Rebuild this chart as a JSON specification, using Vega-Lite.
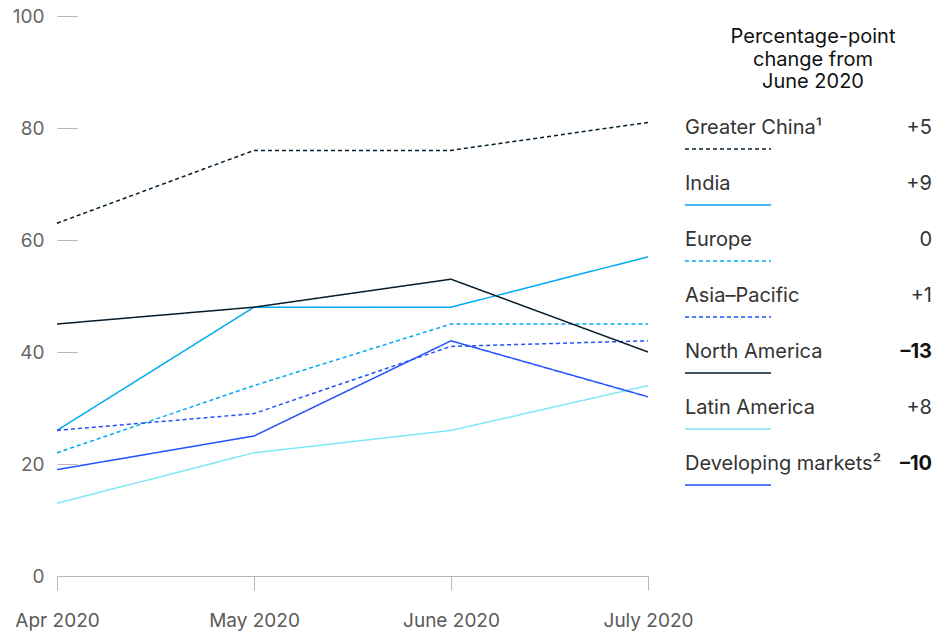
{
  "$schema": "https://vega.github.io/schema/vega-lite/v6.json",
  "background": "white",
  "padding": {"left": 12, "top": 7, "right": 5, "bottom": 5},
  "bounds": "flush",
  "spacing": 37,
  "config": {"view": {"stroke": null}, "font": "Inter"},
  "datasets": {
    "series": [
      {"region": "Greater China", "month": "Apr 2020", "value": 63},
      {"region": "Greater China", "month": "May 2020", "value": 76},
      {"region": "Greater China", "month": "June 2020", "value": 76},
      {"region": "Greater China", "month": "July 2020", "value": 81},
      {"region": "India", "month": "Apr 2020", "value": 26},
      {"region": "India", "month": "May 2020", "value": 48},
      {"region": "India", "month": "June 2020", "value": 48},
      {"region": "India", "month": "July 2020", "value": 57},
      {"region": "Europe", "month": "Apr 2020", "value": 22},
      {"region": "Europe", "month": "May 2020", "value": 34},
      {"region": "Europe", "month": "June 2020", "value": 45},
      {"region": "Europe", "month": "July 2020", "value": 45},
      {"region": "Asia–Pacific", "month": "Apr 2020", "value": 26},
      {"region": "Asia–Pacific", "month": "May 2020", "value": 29},
      {"region": "Asia–Pacific", "month": "June 2020", "value": 41},
      {"region": "Asia–Pacific", "month": "July 2020", "value": 42},
      {"region": "North America", "month": "Apr 2020", "value": 45},
      {"region": "North America", "month": "May 2020", "value": 48},
      {"region": "North America", "month": "June 2020", "value": 53},
      {"region": "North America", "month": "July 2020", "value": 40},
      {"region": "Latin America", "month": "Apr 2020", "value": 13},
      {"region": "Latin America", "month": "May 2020", "value": 22},
      {"region": "Latin America", "month": "June 2020", "value": 26},
      {"region": "Latin America", "month": "July 2020", "value": 34},
      {"region": "Developing markets", "month": "Apr 2020", "value": 19},
      {"region": "Developing markets", "month": "May 2020", "value": 25},
      {"region": "Developing markets", "month": "June 2020", "value": 42},
      {"region": "Developing markets", "month": "July 2020", "value": 32}
    ],
    "legend": [
      {"region": "Greater China", "name": "Greater China¹", "rank": 1, "change": 5, "label": "+5"},
      {"region": "India", "name": "India", "rank": 2, "change": 9, "label": "+9"},
      {"region": "Europe", "name": "Europe", "rank": 3, "change": 0, "label": "0"},
      {"region": "Asia–Pacific", "name": "Asia–Pacific", "rank": 4, "change": 1, "label": "+1"},
      {"region": "North America", "name": "North America", "rank": 5, "change": -13, "label": "–13"},
      {"region": "Latin America", "name": "Latin America", "rank": 6, "change": 8, "label": "+8"},
      {"region": "Developing markets", "name": "Developing markets²", "rank": 7, "change": -10, "label": "–10"}
    ]
  },
  "hconcat": [
    {
      "width": 591,
      "height": 560,
      "data": {"name": "series"},
      "mark": {"type": "line", "strokeWidth": 1.5},
      "encoding": {
        "x": {
          "field": "month", "type": "ordinal",
          "sort": ["Apr 2020", "May 2020", "June 2020", "July 2020"],
          "scale": {"type": "point", "padding": 0},
          "axis": {"title": null, "labelAngle": 0, "domainColor": "#b8b8b8", "tickColor": "#b8b8b8", "tickSize": 14, "labelPadding": 21, "labelFontSize": 19, "labelColor": "#5a5a5a"}
        },
        "y": {
          "field": "value", "type": "quantitative",
          "scale": {"domain": [0, 100]},
          "axis": {"title": null, "domain": false, "grid": false, "values": [0, 20, 40, 60, 80, 100], "tickSize": -20, "tickColor": "#b8b8b8", "labelPadding": 33, "labelFontSize": 19, "labelColor": "#666666"}
        },
        "color": {
          "field": "region", "type": "nominal", "legend": null,
          "scale": {
            "domain": ["Greater China", "India", "Europe", "Asia–Pacific", "North America", "Latin America", "Developing markets"],
            "range": ["#051c2c", "#00a9f4", "#00a9f4", "#2251ff", "#051c2c", "#7fe6f6", "#2251ff"]
          }
        },
        "strokeDash": {
          "field": "region", "type": "nominal", "legend": null,
          "scale": {
            "domain": ["Greater China", "India", "Europe", "Asia–Pacific", "North America", "Latin America", "Developing markets"],
            "range": [[4, 3], [1, 0], [4, 3], [4, 3], [1, 0], [1, 0], [1, 0]]
          }
        }
      }
    },
    {
      "width": 247,
      "height": 560,
      "layer": [
        {
          "data": {"values": [{}]},
          "mark": {"type": "text", "text": ["Percentage-point", "change from", "June 2020"], "align": "center", "baseline": "middle", "fontSize": 20, "lineHeight": 22.5, "color": "#111111"},
          "encoding": {
            "x": {"datum": 128, "type": "quantitative", "scale": {"domain": [0, 247], "nice": false, "zero": false}, "axis": null},
            "y": {"datum": -0.625, "type": "quantitative", "scale": {"domain": [-1, 9], "nice": false, "zero": false, "reverse": true}, "axis": null}
          }
        },
        {
          "data": {"name": "legend"},
          "mark": {"type": "text", "align": "left", "baseline": "middle", "fontSize": 20, "color": "#333333"},
          "encoding": {
            "x": {"datum": 0, "type": "quantitative"},
            "y": {"field": "rank", "type": "quantitative"},
            "text": {"field": "name"}
          }
        },
        {
          "data": {"name": "legend"},
          "transform": [{"filter": "datum.change > -10"}],
          "mark": {"type": "text", "align": "right", "baseline": "middle", "fontSize": 20, "color": "#333333"},
          "encoding": {
            "x": {"datum": 247, "type": "quantitative"},
            "y": {"field": "rank", "type": "quantitative"},
            "text": {"field": "label"}
          }
        },
        {
          "data": {"name": "legend"},
          "transform": [{"filter": "datum.change <= -10"}],
          "mark": {"type": "text", "align": "right", "baseline": "middle", "fontSize": 20, "fontWeight": 700, "color": "#111111"},
          "encoding": {
            "x": {"datum": 247, "type": "quantitative"},
            "y": {"field": "rank", "type": "quantitative"},
            "text": {"field": "label"}
          }
        },
        {
          "data": {"name": "legend"},
          "mark": {"type": "rule", "strokeWidth": 1.5, "yOffset": 21},
          "encoding": {
            "x": {"datum": 0, "type": "quantitative"},
            "x2": {"datum": 86},
            "y": {"field": "rank", "type": "quantitative"},
            "color": {"field": "region", "type": "nominal", "legend": null},
            "strokeDash": {"field": "region", "type": "nominal", "legend": null}
          }
        }
      ]
    }
  ]
}
